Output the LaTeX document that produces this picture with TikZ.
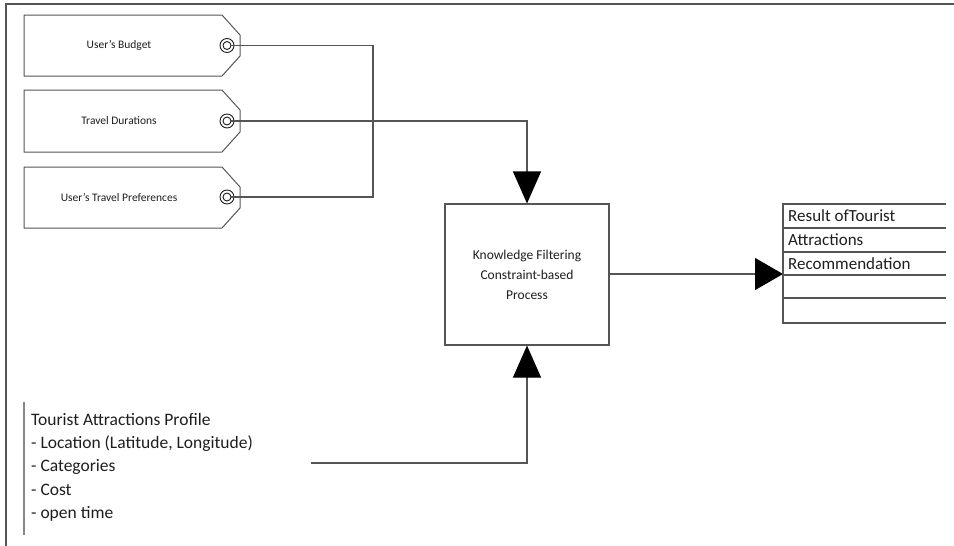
\documentclass[tikz,border=0pt]{standalone}
\usepackage{fontspec}
\setmainfont{Carlito}
\usetikzlibrary{arrows.meta}
\definecolor{ln}{HTML}{555555}
\definecolor{tx}{HTML}{1E1E1E}
\tikzset{
  conn/.style={draw=ln, line width=1.1pt},
  tagshape/.style={draw=ln, line width=1pt},
  tagtext/.style={text=tx, font=\fontsize{11.5}{13}\selectfont, inner sep=0pt},
  ring/.style={circle, draw=tx, line width=0.9pt, minimum size=14pt, inner sep=0pt},
  ringin/.style={circle, draw=tx, line width=0.9pt, minimum size=8pt, inner sep=0pt},
  bigtri/.style={-{Triangle[length=32pt,width=28pt,color=black]}},
  sidetri/.style={-{Triangle[length=28pt,width=32pt,color=black]}},
  procbox/.style={draw=ln, line width=1.1pt, minimum width=164pt, minimum height=141pt, inner sep=0pt,
    align=center, text=tx, font=\fontsize{13.5}{20}\selectfont},
  rowtext/.style={anchor=west, text=tx, font=\fontsize{17}{18}\selectfont, inner sep=0pt},
  proftext/.style={anchor=north west, align=left, text=tx, font=\fontsize{17.5}{23.3}\selectfont, inner sep=0pt},
}
\begin{document}
\begin{tikzpicture}[x=1pt, y=-1pt]
\useasboundingbox (0,0) rectangle (954,546);
% frame
\draw[draw=ln, line width=2.2pt] (6,546) -- (6,4) -- (954,4);
% tags
\foreach \t/\b in {15/76, 90/152, 167/228}{
  \draw[tagshape] (24,\t) -- (222,\t) -- (240,\t+20) -- (240,\b-20) -- (222,\b) -- (24,\b) -- cycle;
}
\node[tagtext] (t1) at (119,45.5) {User’s Budget};
\node[tagtext] (t2) at (119,121) {Travel Durations};
\node[tagtext] (t3) at (119,197.5) {User’s Travel Preferences};
\node[ring] (r1) at (227,45.5) {};
\node[ringin] (c1) at (227,45.5) {};
\node[ring] (r2) at (227,121) {};
\node[ringin] (c2) at (227,121) {};
\node[ring] (r3) at (227,197) {};
\node[ringin] (c3) at (227,197) {};
% process box
\node[procbox] (kf) at (527,274.5) {Knowledge Filtering\\Constraint-based\\Process};
% connectors from tags
\coordinate (j) at (373,45.5);
\draw[conn] (c1.east) -- (j) -- (373,197) -- (c3.east);
\draw[conn, bigtri] (c2.east) -- (527,121) -- (kf.north);
% table
\coordinate (tl) at (783,274);
\draw[conn, sidetri] (kf.east |- tl) -- (tl);
\draw[conn] (946,204) -- (783,204) -- (783,323) -- (946,323);
\foreach \y in {228,252,275,298}{ \draw[conn] (783,\y) -- (946,\y); }
\node[rowtext] (r1t) at (788,216) {Result ofTourist};
\node[rowtext] (r2t) at (788,240) {Attractions};
\node[rowtext] (r3t) at (788,263.5) {Recommendation};
% profile
\draw[draw=ln!70, line width=1.1pt] (24,402) -- (24,535);
\node[proftext] (prof) at (31,413) {Tourist Attractions Profile\\- Location (Latitude, Longitude)\\- Categories\\- Cost\\- open time};
\coordinate (p0) at (311,463);
\draw[conn, bigtri] (p0) -- (527,463) -- (kf.south);
\end{tikzpicture}
\end{document}
